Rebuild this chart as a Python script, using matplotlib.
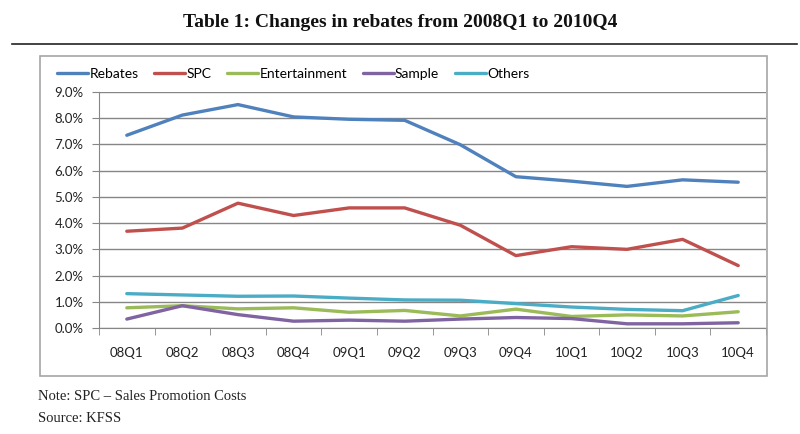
import matplotlib
matplotlib.use("Agg")
import matplotlib.pyplot as plt
from matplotlib.patches import Rectangle
from matplotlib.lines import Line2D

quarters = ["08Q1", "08Q2", "08Q3", "08Q4", "09Q1", "09Q2",
            "09Q3", "09Q4", "10Q1", "10Q2", "10Q3", "10Q4"]
rebates = [7.35, 8.12, 8.52, 8.05, 7.96, 7.92, 6.99, 5.77, 5.6, 5.4, 5.65, 5.56]
spc = [3.69, 3.81, 4.76, 4.29, 4.58, 4.58, 3.92, 2.76, 3.1, 3.0, 3.38, 2.38]
entertainment = [0.77, 0.85, 0.73, 0.77, 0.6, 0.67, 0.46, 0.72, 0.44, 0.5, 0.46, 0.62]
sample = [0.34, 0.85, 0.51, 0.26, 0.3, 0.26, 0.34, 0.4, 0.36, 0.16, 0.16, 0.2]
others = [1.31, 1.26, 1.21, 1.22, 1.14, 1.07, 1.06, 0.93, 0.8, 0.71, 0.66, 1.24]

series = [("Rebates", rebates, "#4F81BD"),
          ("SPC", spc, "#C0504D"),
          ("Entertainment", entertainment, "#9BBB59"),
          ("Sample", sample, "#8064A2"),
          ("Others", others, "#4BACC6")]

fig = plt.figure(figsize=(8, 4.34), dpi=100)

# title and rule
fig.text(0.5, 0.949, "Table 1: Changes in rebates from 2008Q1 to 2010Q4",
         ha="center", va="center", family="Liberation Serif",
         fontweight="bold", fontsize=14, color="#111111")
fig.add_artist(Line2D([12 / 800, 797 / 800], [1 - 44 / 434, 1 - 44 / 434],
                      color="#222222", lw=1.2))

# chart frame
fig.add_artist(Rectangle((40 / 800, 1 - 376 / 434), 727 / 800, 320 / 434,
                         fill=False, edgecolor="#a6a6a6", lw=1.2))

ax = fig.add_axes([99 / 800, 1 - 328 / 434, 667 / 800, 236 / 434])
x = list(range(len(quarters)))
for name, vals, col in series:
    ax.plot(x, vals, color=col, lw=2.4, label=name, solid_capstyle="round")

ax.set_xlim(-0.5, len(quarters) - 0.5)
ax.set_ylim(0, 9)
ax.set_yticks(range(0, 10))
ax.set_yticklabels([f"{v:.1f}%" for v in range(0, 10)])
ax.set_xticks(x)
ax.set_xticklabels(quarters)
ax.set_xticks([i - 0.5 for i in range(len(quarters) + 1)], minor=True)
ax.tick_params(axis="x", which="major", length=0, pad=14)
ax.tick_params(axis="x", which="minor", length=5, color="#868686", direction="out")
ax.tick_params(axis="y", length=5, color="#868686", direction="out", pad=6)
for lab in ax.get_xticklabels() + ax.get_yticklabels():
    lab.set_family("Lato")
    lab.set_fontsize(9.5)
    lab.set_color("#222222")
ax.grid(axis="y", color="#868686", lw=1)
ax.set_axisbelow(True)
for s in ["top", "right"]:
    ax.spines[s].set_visible(False)
for s in ["left", "bottom"]:
    ax.spines[s].set_color("#868686")

ax.legend(loc="lower left", bbox_to_anchor=(-0.08, 1.0), ncol=5, frameon=False,
          handlelength=2.2, handletextpad=0.1, columnspacing=1.15,
          prop={"family": "Lato", "size": 10}, borderaxespad=0.45)

fig.text(38 / 800, 1 - 397 / 434, "Note: SPC \u2013 Sales Promotion Costs",
         family="Liberation Serif", fontsize=10.5, va="center", color="#222222")
fig.text(38 / 800, 1 - 418 / 434, "Source: KFSS",
         family="Liberation Serif", fontsize=10.5, va="center", color="#222222")

fig.savefig("out.png", dpi=100)
